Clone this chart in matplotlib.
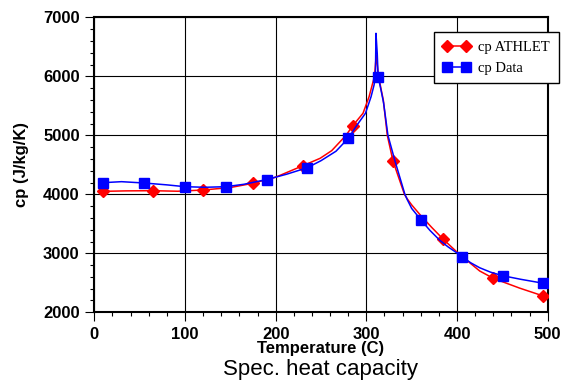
import matplotlib.pyplot as plt
from matplotlib.lines import Line2D
from matplotlib.ticker import MultipleLocator

# curve values (temperature C, cp J/kg/K)
athlet_t = [9.3, 35, 65, 92, 120.2, 150, 174.7, 200, 230, 249, 261.8, 277.6, 285,
            296.3, 303, 309, 310.9, 313, 316, 318.7, 323.1, 329.4, 342, 345.2,
            350, 360, 372, 385, 401.4, 425, 440, 455, 469, 495.2]
athlet_cp = [4050, 4058, 4061, 4052, 4073, 4115, 4186, 4290, 4485, 4610, 4740, 5000, 5163,
             5373, 5654, 6000, 6361, 6050, 5800, 5598, 5000, 4563, 4000, 3920,
             3820, 3640, 3440, 3235, 3000, 2700, 2576, 2490, 2410, 2276]
athlet_mark_t = [9.3, 65, 120.2, 174.7, 230, 285, 329.4, 385, 440, 495.2]
athlet_mark_cp = [4050, 4061, 4073, 4186, 4485, 5163, 4563, 3235, 2576, 2276]

data_t = [9.6, 30, 54.5, 80, 100, 122, 145, 165, 190, 212, 234.9, 250, 266.5, 280.1,
          290, 299, 305.2, 308.5, 310, 310.6, 312, 313, 316, 319, 323.8, 331.6,
          342.5, 345.2, 350, 360, 370, 381, 390, 401.4, 405.2, 415, 425, 437,
          450.4, 470, 495.2]
data_cp = [4197, 4214, 4192, 4160, 4129, 4119, 4129, 4170, 4250, 4340, 4451, 4570, 4730, 4950,
           5180, 5373, 5654, 5853, 6000, 6729, 6390, 5993, 5780, 5550, 5000, 4563,
           4000, 3907, 3760, 3570, 3390, 3220, 3110, 2990, 2945, 2840, 2755, 2680,
           2620, 2560, 2492]
data_mark_t = [9.6, 54.5, 100, 145, 190, 234.9, 280.1, 313, 360, 405.2, 450.4, 495.2]
data_mark_cp = [4197, 4192, 4129, 4129, 4250, 4451, 4950, 5993, 3570, 2945, 2620, 2492]

plt.rcParams['font.family'] = 'Liberation Sans'

fig = plt.figure(figsize=(5.67, 3.83), dpi=100)
ax = fig.add_axes([0.1663, 0.1846, 0.7997, 0.7702])

red = '#ff0000'
blue = '#0000ff'
ax.plot(athlet_t, athlet_cp, color=red, lw=1.1, zorder=3)
ax.plot(athlet_mark_t, athlet_mark_cp, ls='none', marker='D', ms=6, color=red, zorder=4)
ax.plot(data_t, data_cp, color=blue, lw=1.1, zorder=5)
ax.plot(data_mark_t, data_mark_cp, ls='none', marker='s', ms=7, color=blue, zorder=6)

ax.set_xlim(0, 500)
ax.set_ylim(2000, 7000)
ax.xaxis.set_major_locator(MultipleLocator(100))
ax.xaxis.set_minor_locator(MultipleLocator(20))
ax.yaxis.set_major_locator(MultipleLocator(1000))
ax.yaxis.set_minor_locator(MultipleLocator(200))
ax.grid(True, which='major', color='black', lw=0.8)
ax.set_axisbelow(True)
ax.tick_params(which='major', length=6.5, width=0.8, pad=4, labelsize=12)
ax.tick_params(which='minor', length=3, width=0.8)
for lab in ax.get_xticklabels() + ax.get_yticklabels():
    lab.set_fontweight('bold')
for s in ax.spines.values():
    s.set_linewidth(1.5)

ax.set_ylabel('cp (J/kg/K)', fontsize=12, fontweight='bold', labelpad=10)
fig.text(0.566, 0.089, 'Temperature (C)', fontsize=12, fontweight='bold',
         ha='center', va='center')
fig.text(0.566, 0.036, 'Spec. heat capacity', fontsize=16,
         ha='center', va='center')

handles = [Line2D([], [], color=red, lw=1.1, marker='D', ms=6),
           Line2D([], [], color=blue, lw=1.1, marker='s', ms=7)]
leg = fig.legend(handles, ['cp ATHLET', 'cp Data'], loc='upper left',
                 bbox_to_anchor=(0.765, 0.916), borderaxespad=0, numpoints=2,
                 prop={'family': 'Liberation Serif', 'size': 10.5},
                 fancybox=False, framealpha=1, edgecolor='black',
                 handlelength=1.9, handletextpad=0.55, labelspacing=0.5,
                 borderpad=0.6)
leg.get_frame().set_linewidth(1.0)

fig.savefig('out.png', dpi=100)
